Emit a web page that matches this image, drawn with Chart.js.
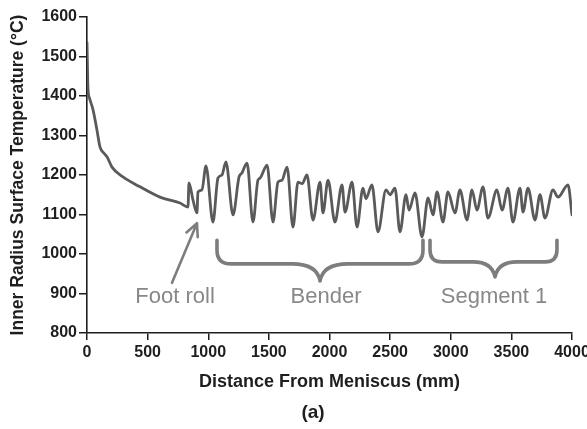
<!DOCTYPE html>
<html>
<head>
<meta charset="utf-8">
<title>Inner Radius Surface Temperature</title>
<script src="https://cdn.jsdelivr.net/npm/chart.js@4"></script>
<style>
    html, body { margin: 0; padding: 0; background: #fff; }
    #tempChart { display: block; }
</style>
</head>
<body>
<canvas id="tempChart" width="587" height="429"></canvas>
<script>
// Distance from meniscus (mm) and inner radius surface temperature (degC)
var distanceMm = [
    0, 8, 20, 50, 82, 107, 140, 165, 206, 297, 437, 602, 767, 833,
    841, 874, 907, 915, 948, 981, 1039, 1080, 1113, 1146, 1204, 1254, 1278, 1320,
    1369, 1410, 1427, 1485, 1534, 1575, 1608, 1650, 1699, 1740, 1775, 1814, 1864, 1922,
    1946, 1988, 2045, 2103, 2128, 2186, 2227, 2276, 2300, 2350, 2400, 2466, 2500, 2540,
    2581, 2631, 2656, 2705, 2763, 2813, 2854, 2887, 2936, 2977, 3035, 3076, 3134, 3175,
    3216, 3266, 3307, 3381, 3423, 3472, 3513, 3571, 3596, 3637, 3695, 3736, 3777, 3843,
    3885, 3967, 4000
];
var surfaceTempC = [
    1535, 1420, 1395, 1365, 1314, 1271, 1255, 1246, 1220, 1195, 1170, 1144, 1129, 1119,
    1180, 1137, 1104, 1157, 1162, 1223, 1081, 1192, 1200, 1233, 1099, 1195, 1205, 1230,
    1081, 1187, 1192, 1225, 1081, 1182, 1187, 1220, 1068, 1182, 1178, 1200, 1086, 1182,
    1104, 1187, 1081, 1175, 1106, 1182, 1068, 1167, 1140, 1175, 1056, 1162, 1150, 1167,
    1056, 1150, 1111, 1155, 1043, 1142, 1099, 1157, 1081, 1157, 1104, 1162, 1086, 1162,
    1111, 1170, 1091, 1162, 1111, 1167, 1081, 1167, 1106, 1167, 1086, 1150, 1091, 1162,
    1144, 1175, 1099
];

// Axis ranges and tick steps
var xRange = [0, 4000];
var yRange = [800, 1600];
var xStep = 500;
var yStep = 100;

// Region labels under the curve
var regionLabels = ['Foot roll', 'Bender', 'Segment 1'];

var FONT = "'Liberation Sans', Arial, Helvetica, sans-serif";
var AXIS_COLOR = '#1e1e1e';
var NOTE_STROKE = '#7d7d7d';
var NOTE_TEXT = '#888888';

// Draw a horizontal curly brace (pixel coordinates)
function drawBrace(ctx, x1, x2, xTip, yTop, yMid, yTip, r, r2) {
    ctx.beginPath();
    ctx.moveTo(x1, yTop);
    ctx.lineTo(x1, yMid - r);
    ctx.quadraticCurveTo(x1, yMid, x1 + r, yMid);
    ctx.lineTo(xTip - r2, yMid);
    ctx.quadraticCurveTo(xTip - 3, yMid, xTip, yTip);
    ctx.quadraticCurveTo(xTip + 3, yMid, xTip + r2, yMid);
    ctx.lineTo(x2 - r, yMid);
    ctx.quadraticCurveTo(x2, yMid, x2, yMid - r);
    ctx.lineTo(x2, yTop);
    ctx.stroke();
}

// Annotations: arrow, braces, region names and the panel letter
var annotationPlugin = {
    id: 'annotations',
    afterDatasetsDraw: function(chart) {
        var ctx = chart.ctx;
        var xs = chart.scales.x;
        var ys = chart.scales.y;
        var px = function(v) { return xs.getPixelForValue(v); };
        var py = function(v) { return ys.getPixelForValue(v); };

        ctx.save();
        ctx.strokeStyle = NOTE_STROKE;
        ctx.lineCap = 'round';
        ctx.lineJoin = 'round';

        // Foot roll arrow
        var tailX = px(701), tailY = py(927);
        var tipX = px(907), tipY = py(1078);
        ctx.lineWidth = 2.6;
        ctx.beginPath();
        ctx.moveTo(tailX, tailY);
        ctx.lineTo(tipX, tipY);
        var ang = Math.atan2(tipY - tailY, tipX - tailX);
        var headLen = 14;
        ctx.moveTo(tipX - headLen * Math.cos(ang - 0.45), tipY - headLen * Math.sin(ang - 0.45));
        ctx.lineTo(tipX, tipY);
        ctx.lineTo(tipX - headLen * Math.cos(ang + 0.45), tipY - headLen * Math.sin(ang + 0.45));
        ctx.stroke();

        // Braces
        ctx.lineWidth = 3.6;
        drawBrace(ctx, px(1072), px(2771), px(1922), py(1035), py(975), py(932), 14, 28);
        drawBrace(ctx, px(2829), px(3876), px(3365), py(1035), py(980), py(942), 12, 22);

        // Region names
        ctx.fillStyle = NOTE_TEXT;
        ctx.font = '22px ' + FONT;
        ctx.textAlign = 'center';
        ctx.textBaseline = 'middle';
        ctx.fillText(regionLabels[0], px(726), py(891));
        ctx.fillText(regionLabels[1], px(1971), py(891));
        ctx.fillText(regionLabels[2], px(3357), py(891));

        // Panel letter
        ctx.fillStyle = '#1e1e1e';
        ctx.font = 'bold 19px ' + FONT;
        ctx.fillText('(a)', 313, 413);
        ctx.restore();
    }
};

// Plain tick labels, no thousands separator
function plainTick(value) {
    return String(value);
}

var points = distanceMm.map(function(d, i) {
    return { x: d, y: surfaceTempC[i] };
});

var ctx = document.getElementById('tempChart').getContext('2d');
var tempChart = new Chart(ctx, {
    type: 'line',
    data: {
        datasets: [
            {
                label: 'Inner radius surface temperature',
                data: points,
                borderColor: '#5a5a5a',
                borderWidth: 2.8,
                pointRadius: 0,
                cubicInterpolationMode: 'monotone',
                borderJoinStyle: 'round',
                borderCapStyle: 'round',
                fill: false
            }
        ]
    },
    options: {
        responsive: false,
        animation: false,
        layout: {
            padding: { left: 0, right: 15, top: 17, bottom: 0 }
        },
        plugins: {
            legend: { display: false },
            tooltip: { enabled: false }
        },
        scales: {
            x: {
                type: 'linear',
                min: xRange[0],
                max: xRange[1],
                ticks: {
                    stepSize: xStep,
                    padding: 3,
                    color: AXIS_COLOR,
                    font: { family: FONT, size: 16, weight: 'bold' },
                    maxRotation: 0,
                    callback: plainTick
                },
                grid: {
                    drawOnChartArea: false,
                    drawTicks: true,
                    tickLength: 7,
                    color: AXIS_COLOR,
                    lineWidth: 1.5
                },
                border: { display: true, color: AXIS_COLOR, width: 1.6 },
                title: {
                    display: true,
                    text: 'Distance From Meniscus (mm)',
                    color: AXIS_COLOR,
                    font: { family: FONT, size: 18, weight: 'bold' },
                    padding: { top: 0, bottom: 36 }
                },
                afterFit: function(scale) {
                    scale.height = 96;
                    scale.paddingRight = 0;
                }
            },
            y: {
                min: yRange[0],
                max: yRange[1],
                ticks: {
                    stepSize: yStep,
                    padding: 2,
                    color: AXIS_COLOR,
                    font: { family: FONT, size: 16, weight: 'bold' },
                    callback: plainTick
                },
                grid: {
                    drawOnChartArea: false,
                    drawTicks: true,
                    tickLength: 8,
                    color: AXIS_COLOR,
                    lineWidth: 1.5
                },
                border: { display: true, color: AXIS_COLOR, width: 1.6 },
                title: {
                    display: true,
                    text: 'Inner Radius Surface Temperature (°C)',
                    color: AXIS_COLOR,
                    font: { family: FONT, size: 17.5, weight: 'bold' },
                    padding: { top: 7.5, bottom: 0 }
                },
                afterFit: function(scale) {
                    scale.width = 87;
                }
            }
        }
    },
    plugins: [annotationPlugin]
});
</script>
</body>
</html>
